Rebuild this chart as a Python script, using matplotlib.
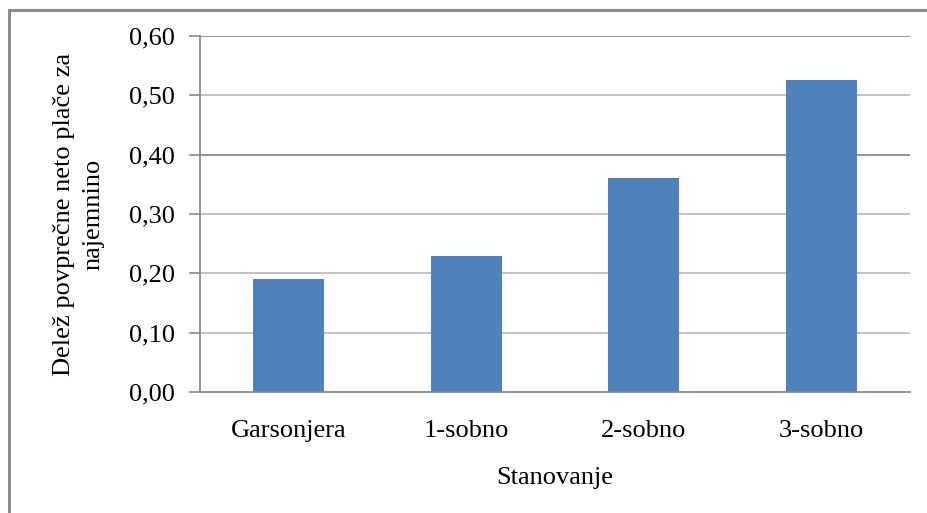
import matplotlib
matplotlib.use('Agg')
import matplotlib.pyplot as plt
from matplotlib.patches import Rectangle

plt.rcParams['font.family'] = ['Liberation Serif', 'DejaVu Serif']
plt.rcParams.update({'font.size': 19})

# najemnina kot delež povprečne neto plače
stanovanja = ['Garsonjera', '1-sobno', '2-sobno', '3-sobno']
delez = [0.19, 0.23, 0.36, 0.525]
y_ticks = [0.0, 0.1, 0.2, 0.3, 0.4, 0.5, 0.6]
y_tick_labels = ['0,00', '0,10', '0,20', '0,30', '0,40', '0,50', '0,60']

fig = plt.figure(figsize=(9.27, 5.13), dpi=100)
ax1 = fig.add_axes([200 / 927, 1 - 392 / 513, 710 / 927, 356 / 513])

# okvir grafa
fig.patches.append(Rectangle((9 / 927, -0.05), 1.2, 1 - 10 / 513 + 0.05,
                             transform=fig.transFigure, fill=False,
                             edgecolor='#8c8c8c', linewidth=2.2))

for t in y_ticks[1:]:
    c = '#8a8a8a' if t in (0.4, 0.6) else '#bdbdbd'
    ax1.axhline(t, color=c, linewidth=1.3, zorder=0)

x = list(range(len(stanovanja)))
ax1.bar(x, delez, width=0.4, color='#4f81bd', zorder=2)

ax1.set_xlim(-0.5, len(stanovanja) - 0.5)
ax1.set_ylim(0, 0.6)
ax1.set_yticks(y_ticks)
ax1.set_yticklabels(y_tick_labels)
ax1.set_xticks(x)
ax1.set_xticklabels(stanovanja)
ax1.tick_params(axis='y', length=8, width=1.2, color='#8a8a8a', pad=10)
ax1.tick_params(axis='x', length=0, pad=20)

for side in ['top', 'right']:
    ax1.spines[side].set_visible(False)
for side in ['left', 'bottom']:
    ax1.spines[side].set_color('#8a8a8a')
    ax1.spines[side].set_linewidth(1.3)

ax1.set_xlabel('Stanovanje')
ax1.xaxis.set_label_coords(0.5, -0.212)
ax1.set_ylabel('Delež povprečne neto plače za\nnajemnino', linespacing=1.4)
ax1.yaxis.set_label_coords(-0.135, 0.5)

fig.savefig('out.png', dpi=100)
